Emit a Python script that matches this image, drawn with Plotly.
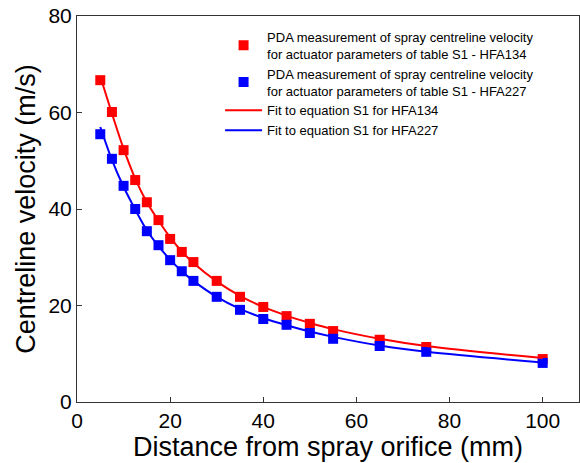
import plotly.graph_objects as go

distance = [5, 7.5, 10, 12.5, 15, 17.5, 20, 22.5, 25, 30, 35, 40, 45, 50, 55, 65, 75, 100]
hfa134_meas = [66.7, 60.1, 52.2, 46.0, 41.4, 37.7, 33.8, 31.1, 29.0, 25.1, 21.8, 19.7, 17.8, 16.2, 14.7, 12.9, 11.4, 8.9]
hfa227_meas = [55.5, 50.4, 44.8, 40.0, 35.4, 32.5, 29.4, 27.1, 25.1, 21.8, 19.1, 17.2, 16.0, 14.3, 13.1, 11.6, 10.4, 8.1]
hfa134_fit = [67.5, 59.8, 52.5, 46.3, 41.4, 37.6, 34.1, 31.2, 28.8, 25.0, 22.0, 19.7, 17.9, 16.4, 15.1, 13.1, 11.6, 9.1]
hfa227_fit = [57.0, 50.2, 44.6, 39.9, 35.6, 32.3, 29.5, 27.1, 25.1, 21.8, 19.3, 17.4, 15.9, 14.6, 13.5, 11.7, 10.4, 8.2]

names = [
    "PDA measurement of spray centreline velocity<br>for actuator parameters of table S1 - HFA134",
    "PDA measurement of spray centreline velocity<br>for actuator parameters of table S1 - HFA227",
    "Fit to equation S1 for HFA134",
    "Fit to equation S1 for HFA227",
]

FONT = "Liberation Sans, Arial"

fig = go.Figure()
fig.add_trace(go.Scatter(x=distance, y=hfa134_meas, mode="markers", name=names[0],
                         marker=dict(symbol="square", size=10, color="#ff0000")))
fig.add_trace(go.Scatter(x=distance, y=hfa227_meas, mode="markers", name=names[1],
                         marker=dict(symbol="square", size=10, color="#0000ff")))
fig.add_trace(go.Scatter(x=distance, y=hfa134_fit, mode="lines", name=names[2],
                         line=dict(color="#ff0000", width=2, shape="spline")))
fig.add_trace(go.Scatter(x=distance, y=hfa227_fit, mode="lines", name=names[3],
                         line=dict(color="#0000ff", width=2, shape="spline")))

axis_common = dict(showgrid=False, zeroline=False, showline=True, linecolor="#333333",
                   linewidth=1, mirror=True, ticks="inside", ticklen=5, tickcolor="#333333",
                   tickfont=dict(size=21, family=FONT, color="#000"))
fig.update_xaxes(range=[0, 107.8], tickvals=[0, 20, 40, 60, 80, 100],
                 title=dict(text="Distance from spray orifice (mm)", standoff=0,
                            font=dict(size=27, family=FONT, color="#000")),
                 **axis_common)
fig.update_yaxes(range=[0, 80], tickvals=[0, 20, 40, 60, 80],
                 title=dict(text="Centreline velocity (m/s)", standoff=4,
                            font=dict(size=27, family=FONT, color="#000")),
                 **axis_common)

fig.update_layout(
    width=580, height=463,
    margin=dict(l=77, r=1, t=16, b=61),
    paper_bgcolor="white", plot_bgcolor="white",
    showlegend=True,
    legend=dict(x=0.285, y=0.985, xanchor="left", yanchor="top",
                bgcolor="rgba(0,0,0,0)", font=dict(size=13, family=FONT, color="#000"),
                tracegroupgap=0, itemwidth=37),
)
fig.write_html("out.html")
